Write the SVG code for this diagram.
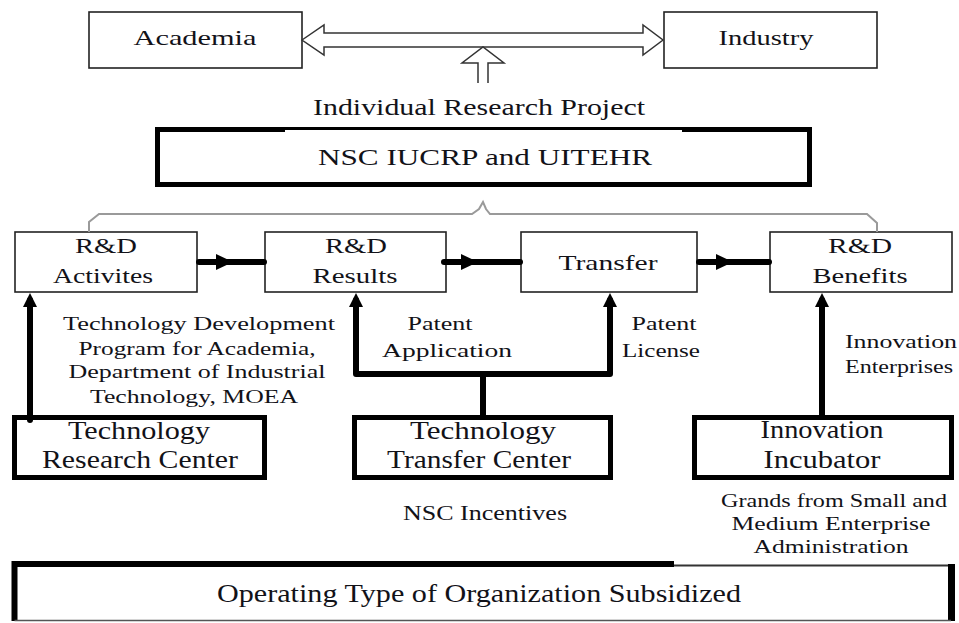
<svg xmlns="http://www.w3.org/2000/svg" width="959" height="623" viewBox="0 0 959 623">
  <style>
    text { font-family: "Liberation Serif", "Times New Roman", serif; fill: #121218; text-anchor: middle; }
    .thin { fill: #fff; stroke: #222; stroke-width: 1.6; }
    .thick { fill: #fff; stroke: #000; stroke-width: 5; }
    .hollow { fill: #fff; stroke: #333; stroke-width: 1.5; }
    .wire { fill: none; stroke: #000; stroke-width: 6; stroke-linecap: round; stroke-linejoin: round; }
    .head { fill: #000; }
    .brace { fill: none; stroke: #9a9a9a; stroke-width: 2; }
    .f22 { font-size: 22px; }
    .f24 { font-size: 24px; }
    .f26 { font-size: 26px; }
    .f20 { font-size: 20px; }
    .f19 { font-size: 19px; }
    .f18 { font-size: 18px; }
  </style>

  <!-- top pair -->
  <g id="academia">
    <rect class="thin" x="89" y="12" width="213" height="56"/>
    <text class="f22" x="195" y="45" textLength="123" lengthAdjust="spacingAndGlyphs">Academia</text>
  </g>
  <g id="industry">
    <rect class="thin" x="664" y="12" width="213" height="56"/>
    <text class="f22" x="766" y="45" textLength="95" lengthAdjust="spacingAndGlyphs">Industry</text>
  </g>

  <!-- hollow exchange arrows -->
  <g id="exchange">
    <polygon class="hollow" points="302,40 324,25 324,33 643,33 643,25 663,40 643,55 643,47 324,47 324,55"/>
    <path class="hollow" d="M478 83 L478 63 L462 63 L483 47 L504 63 L488 63 L488 83"/>
  </g>

  <g id="project-label">
    <text class="f24" x="479" y="115" textLength="332" lengthAdjust="spacingAndGlyphs">Individual Research Project</text>
  </g>

  <g id="nsc">
    <rect class="thick" x="157.5" y="129.5" width="652" height="55"/>
    <rect x="285" y="130" width="397" height="3" fill="#fff"/>
    <text class="f24" x="485" y="165" textLength="334" lengthAdjust="spacingAndGlyphs">NSC IUCRP and UITEHR</text>
  </g>

  <!-- stage boxes -->
  <g id="rd-activities">
    <rect class="thin" x="15" y="232" width="182" height="60"/>
    <text class="f22" x="106" y="253" textLength="62" lengthAdjust="spacingAndGlyphs">R&amp;D</text>
    <text class="f22" x="103" y="283" textLength="100" lengthAdjust="spacingAndGlyphs">Activites</text>
  </g>
  <g id="rd-results">
    <rect class="thin" x="265" y="232" width="181" height="60"/>
    <text class="f22" x="356" y="253" textLength="62" lengthAdjust="spacingAndGlyphs">R&amp;D</text>
    <text class="f22" x="355" y="283" textLength="85" lengthAdjust="spacingAndGlyphs">Results</text>
  </g>
  <g id="transfer">
    <rect class="thin" x="521" y="232" width="176" height="60"/>
    <text class="f22" x="608" y="270" textLength="99" lengthAdjust="spacingAndGlyphs">Transfer</text>
  </g>
  <g id="rd-benefits">
    <rect class="thin" x="770" y="232" width="182" height="60"/>
    <text class="f22" x="860" y="253" textLength="64" lengthAdjust="spacingAndGlyphs">R&amp;D</text>
    <text class="f22" x="860" y="283" textLength="95" lengthAdjust="spacingAndGlyphs">Benefits</text>
  </g>

  <!-- support centres -->
  <g id="research-center">
    <rect class="thick" x="14.5" y="417.5" width="250" height="60"/>
    <text class="f26" x="139" y="439" textLength="142" lengthAdjust="spacingAndGlyphs">Technology</text>
    <text class="f26" x="140" y="468" textLength="196" lengthAdjust="spacingAndGlyphs">Research Center</text>
  </g>
  <g id="transfer-center">
    <rect class="thick" x="354.5" y="417.5" width="256" height="60"/>
    <text class="f26" x="483" y="439" textLength="146" lengthAdjust="spacingAndGlyphs">Technology</text>
    <text class="f26" x="479" y="468" textLength="184" lengthAdjust="spacingAndGlyphs">Transfer Center</text>
  </g>
  <g id="incubator">
    <rect class="thick" x="694.5" y="417.5" width="257" height="60"/>
    <text class="f26" x="822" y="438" textLength="123" lengthAdjust="spacingAndGlyphs">Innovation</text>
    <text class="f26" x="822" y="468" textLength="117" lengthAdjust="spacingAndGlyphs">Incubator</text>
  </g>

  <g id="operating">
    <path d="M14.5 621 L14.5 564 L674 564" fill="none" stroke="#000" stroke-width="6"/>
    <path d="M674 565.5 L950 565.5" fill="none" stroke="#333" stroke-width="2"/>
    <path d="M951.5 564 L951.5 621" fill="none" stroke="#000" stroke-width="7"/>
    <path d="M14.5 620.5 L951 620.5" fill="none" stroke="#555" stroke-width="1.5"/>
    <text class="f26" x="479" y="602" textLength="524" lengthAdjust="spacingAndGlyphs">Operating Type of Organization Subsidized</text>
  </g>

  <!-- annotations -->
  <g id="notes">
    <text class="f19" x="199" y="330" textLength="272" lengthAdjust="spacingAndGlyphs">Technology Development</text>
    <text class="f19" x="197" y="355" textLength="237" lengthAdjust="spacingAndGlyphs">Program for Academia,</text>
    <text class="f19" x="197" y="378" textLength="257" lengthAdjust="spacingAndGlyphs">Department of Industrial</text>
    <text class="f19" x="194" y="403" textLength="208" lengthAdjust="spacingAndGlyphs">Technology, MOEA</text>
    <text class="f19" x="440" y="330" textLength="65" lengthAdjust="spacingAndGlyphs">Patent</text>
    <text class="f19" x="447" y="357" textLength="130" lengthAdjust="spacingAndGlyphs">Application</text>
    <text class="f19" x="664" y="330" textLength="65" lengthAdjust="spacingAndGlyphs">Patent</text>
    <text class="f19" x="661" y="357" textLength="78" lengthAdjust="spacingAndGlyphs">License</text>
    <text class="f19" x="901" y="348" textLength="112" lengthAdjust="spacingAndGlyphs">Innovation</text>
    <text class="f19" x="899" y="373" textLength="108" lengthAdjust="spacingAndGlyphs">Enterprises</text>
    <text class="f20" x="485" y="520" textLength="164" lengthAdjust="spacingAndGlyphs">NSC Incentives</text>
    <text class="f18" x="834" y="507" textLength="226" lengthAdjust="spacingAndGlyphs">Grands from Small and</text>
    <text class="f18" x="831" y="530" textLength="199" lengthAdjust="spacingAndGlyphs">Medium Enterprise</text>
    <text class="f18" x="831" y="553" textLength="155" lengthAdjust="spacingAndGlyphs">Administration</text>
  </g>

  <!-- connectors -->
  <g id="connectors">
    <path class="brace" d="M89 232 L89 222 L99 214 L472 214 L479 209 L483 202 L486 209 L490 214 L867 214 L877 223 L877 232"/>

    <line class="wire" x1="199" y1="262" x2="264" y2="262"/>
    <polygon class="head" points="216,254 233,262 216,270"/>
    <line class="wire" x1="444" y1="262" x2="520" y2="262"/>
    <polygon class="head" points="461,254 478,262 461,270"/>
    <line class="wire" x1="699" y1="262" x2="769" y2="262"/>
    <polygon class="head" points="716,254 733,262 716,270"/>

    <line class="wire" x1="30" y1="420" x2="30" y2="300"/>
    <polygon class="head" points="23,307 30,293 37,307"/>

    <path class="wire" d="M356 300 L356 374 L610 374 L610 300"/>
    <polygon class="head" points="349,307 356,293 363,307"/>
    <polygon class="head" points="603,307 610,293 617,307"/>
    <line class="wire" x1="483" y1="415" x2="483" y2="374"/>

    <line class="wire" x1="822" y1="416" x2="822" y2="300"/>
    <polygon class="head" points="815,307 822,293 829,307"/>
  </g>
</svg>
